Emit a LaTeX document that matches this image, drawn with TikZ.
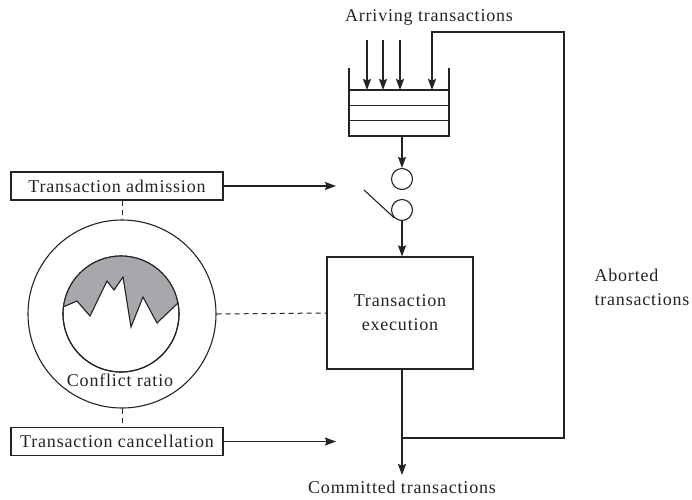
\documentclass[tikz,border=0pt]{standalone}
\usepackage{fontspec}
\setmainfont{Liberation Serif}[LetterSpace=4.5]
\usetikzlibrary{arrows.meta}
\definecolor{ink}{RGB}{35,35,35}
\definecolor{ratiogray}{RGB}{167,168,171}
\begin{document}
\begin{tikzpicture}[x=1pt,y=-1pt,
  every node/.style={text=ink},
  line/.style={draw=ink,line width=1.1pt},
  flow/.style={line,-{Stealth[length=11pt,width=8pt,inset=1.5pt]}},
  link/.style={draw=ink,line width=1pt,dash pattern=on 5pt off 4pt},
  label/.style={font=\fontsize{18}{24}\selectfont},
  ctrlbox/.style={line,label,minimum width=212,minimum height=28,inner sep=0pt},
  gate/.style={line,circle,minimum size=21,inner sep=0pt},
  ]
\useasboundingbox (0,0) rectangle (692,499);

% queue of arriving transactions
\coordinate (qtl) at (349,68);
\coordinate (qtr) at (449,68);
\coordinate (qbl) at (349,136);
\coordinate (qbr) at (449,136);
\draw[line] (qtl) -- (qbl) -- (qbr) -- (qtr);
\draw[line] (349,90) -- (449,90);
\draw[line] (349,105.3) -- (449,105.3);
\draw[line] (349,120.6) -- (449,120.6);
\coordinate (qout) at (402,136);

\node[label] (arr) at (429,17) {Arriving transactions};
\foreach \x in {367,383,400}
  \draw[flow] (\x,40) -- (\x,90);

% admission gate
\node[gate] (g1) at (402,179) {};
\node[gate] (g2) at (402,210) {};
\coordinate (swtip) at (364,190);
\draw[line] (swtip) -- (g2.225);
\draw[flow] (qout) -- (g1.north);

% execution block
\node[line,label,align=center,minimum width=146,minimum height=112,inner sep=0pt] (exec) at (400,313) {Transaction\\execution};
\draw[flow] (g2.south) -- (exec.north -| g2.south);

% output and feedback of aborted transactions
\coordinate (join) at (402,438);
\coordinate (out) at (402,475);
\coordinate (fbr) at (564,438);
\coordinate (fbt) at (564,32);
\coordinate (fbl) at (432,32);
\coordinate (fbin) at (432,90);
\draw[flow] (exec.south -| join) -- (out);
\draw[flow] (join) -- (fbr) -- (fbt) -- (fbl) -- (fbin);
\node[label] (com) at (402,487) {Committed transactions};
\node[label,align=left,anchor=west] (abt) at (591,287) {Aborted\\transactions};

% controller: admission, conflict monitor, cancellation
\node[ctrlbox] (adm) at (117,186) {Transaction admission};
\node[ctrlbox] (can) at (117,441.5) {Transaction cancellation};
\coordinate (admtip) at (336,186);
\coordinate (cantip) at (336,441.5);
\draw[flow] (adm.east) -- (admtip);
\draw[flow] (can.east) -- (cantip);

\node[line,circle,minimum size=188,inner sep=0pt] (ring) at (122,314) {};
\node[line,circle,minimum size=116,inner sep=0pt] (core) at (121,314) {};
\begin{scope}
  \clip (121,314) circle (58);
  \fill[ratiogray] (50,309) -- (63,307) -- (77,301) -- (90,316) -- (107,281) -- (114,290)
    -- (123,277) -- (131,327) -- (143,297) -- (157,323) -- (178,303) -- (190,300)
    -- (190,250) -- (50,250) -- cycle;
  \draw[line] (50,309) -- (63,307) -- (77,301) -- (90,316) -- (107,281) -- (114,290)
    -- (123,277) -- (131,327) -- (143,297) -- (157,323) -- (178,303) -- (190,300);
\end{scope}
\draw[line] (core) circle (58);
\node[label] (ratio) at (120,380) {Conflict ratio};

\draw[link] (adm.south -| ring.north) -- (ring.north);
\draw[link] (ring.south) -- (can.north -| ring.south);
\draw[link] (ring.east) -- (exec.west);
\end{tikzpicture}
\end{document}
